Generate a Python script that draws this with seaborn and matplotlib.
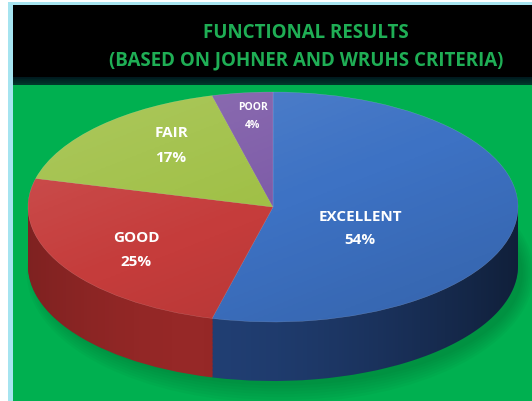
import matplotlib
matplotlib.use("Agg")
import matplotlib.pyplot as plt
from matplotlib.patches import Rectangle, Ellipse, Polygon
import numpy as np
import seaborn as sns

# data
categories = ["EXCELLENT", "GOOD", "FAIR", "POOR"]
shares = [54, 25, 17, 4]
top_colors = ["#3d72c4", "#c53c3b", "#a0c046", "#7e5ca8"]
side_colors = ["#213f74", "#962827", "#5f7a28", "#4b3566"]
title_lines = ["FUNCTIONAL RESULTS", "(BASED ON JOHNER AND WRUHS CRITERIA)"]

sns.set_theme(style="white")
plt.rcParams["font.family"] = ["Open Sans", "DejaVu Sans"]

W, H = 532, 402
CX, CY, RX, RY = 273, 208, 245, 115
fig = plt.figure(figsize=(W / 100, H / 100), dpi=100)
fig.patch.set_facecolor("white")


def box(x0, y0, w, h, color):
    # pixel box (top-left origin) -> figure fraction
    fig.add_artist(Rectangle((x0 / W, 1 - (y0 + h) / H), w / W, h / H,
                             transform=fig.transFigure, color=color, lw=0, zorder=0))


# frame, black title band, green panel
box(8, 3, W - 8, H - 3, "#a6e4f0")
box(13, 6, W - 13, H - 6, "#00b050")
box(13, 6, W - 13, 72, "black")
for i, t in enumerate(np.linspace(0, 1, 10)):
    box(13, 78 + i * 0.8, W - 13, 1, (0.0, 0.10 + 0.12 * t, 0.12 + 0.05 * t))

for line, y in zip(title_lines, [33, 60]):
    fig.text(306 / W, 1 - y / H, line, ha="center", va="center",
             color="#1fae55", fontsize=13.5, fontweight="bold")

# pie axes: unit circle squashed into the ellipse
ax = fig.add_axes([0, 0, 1, 1])
ax.patch.set_alpha(0)
depth = 59 / RY

# soft shadow on the green panel
for k in range(7):
    ax.add_patch(Ellipse((0.03, -depth - 0.06), 1.98 + 0.015 * k, 1.96 + 0.05 * k,
                         color="#005a28", alpha=0.05, lw=0))

for d in np.linspace(depth, 0.01, 45):
    ax.pie(shares, colors=side_colors, startangle=90, counterclock=False,
           center=(0, -d), radius=1, frame=False,
           wedgeprops=dict(linewidth=0))

# darken the side wall towards both ends
t = np.linspace(np.pi, 2 * np.pi, 120)
wall = np.vstack([np.c_[np.cos(t), np.sin(t)],
                  np.c_[np.cos(t[::-1]), np.sin(t[::-1]) - depth]])
clip = Polygon(wall, closed=True, transform=ax.transData, fc="none", ec="none")
ax.add_patch(clip)
xs = np.linspace(-1, 1, 200)
shade = np.clip(np.abs(xs + 0.35) / 1.35, 0, 1) ** 1.6 * 0.5
rgba = np.zeros((2, 200, 4))
rgba[..., 3] = shade
img = ax.imshow(rgba, extent=(-1, 1, -1 - depth, 0), aspect="auto", zorder=3)
img.set_clip_path(clip)

ax.pie(shares, colors=top_colors, startangle=90, counterclock=False,
       center=(0, 0), radius=1, frame=False,
       wedgeprops=dict(linewidth=0.3, edgecolor="#ffffff40", zorder=4))

# gentle light from upper left on the top face
top = Ellipse((0, 0), 2, 2, transform=ax.transData, fc="none", ec="none")
ax.add_patch(top)
gx, gy = np.meshgrid(np.linspace(-1, 1, 100), np.linspace(1, -1, 100))
g = (-gx * 0.5 + gy * 0.6)
light = np.zeros((100, 100, 4))
light[..., :3] = (g > 0)[..., None] * 1.0
light[..., 3] = np.abs(g) * 0.12
lim = ax.imshow(light, extent=(-1, 1, -1, 1), aspect="auto", zorder=5)
lim.set_clip_path(top)

ax.set_aspect("auto")
ax.set_xlim(-CX / RX, (W - CX) / RX)
ax.set_ylim(-(H - CY) / RY, CY / RY)
ax.axis("off")

label_pos = [(360, 217, 240), (136, 238, 262), (171, 133, 158), (253, 107, 126)]
for name, pct, (x, y1, y2) in zip(categories, shares, label_pos):
    size = 7.5 if name == "POOR" else 11
    for txt, y in [(name, y1), (f"{pct}%", y2)]:
        ax.text(x / W, 1 - y / H, txt, transform=ax.transAxes, ha="center",
                va="center", color="white", fontsize=size, fontweight="bold",
                zorder=6)

fig.savefig("out.png", dpi=100)
